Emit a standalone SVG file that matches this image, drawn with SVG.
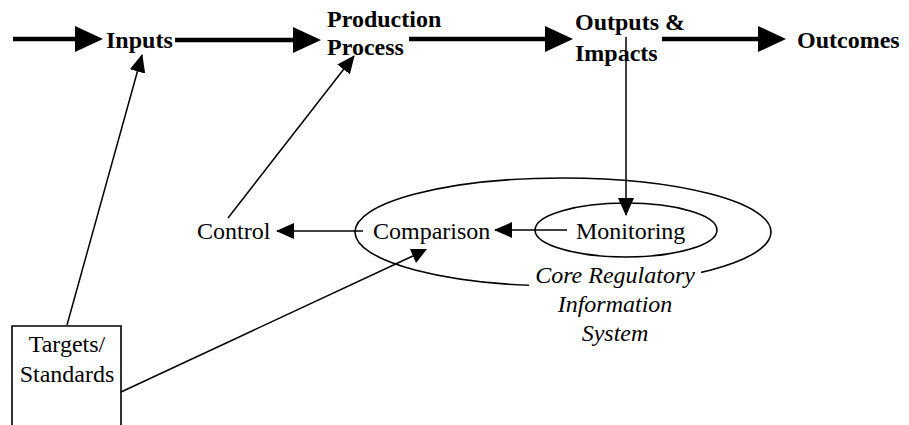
<svg xmlns="http://www.w3.org/2000/svg" width="909" height="425" viewBox="0 0 909 425">
<style>
.thick{stroke:#000;stroke-width:4.5;fill:none}
.thin{stroke:#000;stroke-width:1.5;fill:none}
.shape{stroke:#000;stroke-width:1.6;fill:none}
</style>
<defs>
<marker id="big" markerUnits="userSpaceOnUse" markerWidth="28" markerHeight="26" refX="0" refY="13" orient="auto">
<path d="M0,0 L28,13 L0,26 z" fill="#000"/>
</marker>
<marker id="small" markerUnits="userSpaceOnUse" markerWidth="18" markerHeight="16" refX="17" refY="8" orient="auto">
<path d="M0,0 L18,8 L0,16 z" fill="#000"/>
</marker>
</defs>
<rect width="909" height="425" fill="#fff"/>

<g font-family="Liberation Serif, DejaVu Serif, serif" font-size="24" fill="#000">
<g id="core-system">
<ellipse cx="563" cy="232" rx="208" ry="54" class="shape"/>
<rect x="529" y="264" width="172" height="26" fill="#fff"/>
<text font-style="italic" x="615" y="283" text-anchor="middle">Core Regulatory</text>
<text font-style="italic" x="615" y="312" text-anchor="middle">Information</text>
<text font-style="italic" x="615" y="341" text-anchor="middle">System</text>
</g>

<g id="monitoring">
<ellipse cx="626" cy="230" rx="91" ry="27" class="shape"/>
<text x="576" y="239">Monitoring</text>
</g>

<g id="comparison">
<text x="373" y="239">Comparison</text>
</g>

<g id="control">
<text x="197" y="239">Control</text>
</g>

<g id="targets">
<path d="M12,426 V326 H121 V426" class="shape"/>
<text x="67" y="352" text-anchor="middle">Targets/</text>
<text x="67" y="382" text-anchor="middle">Standards</text>
</g>

<g id="inputs"><text font-weight="bold" x="106" y="48">Inputs</text></g>
<g id="production"><text font-weight="bold" x="327" y="27">Production</text><text font-weight="bold" x="327" y="55">Process</text></g>
<g id="outputs"><text font-weight="bold" x="575" y="30">Outputs &amp;</text><text font-weight="bold" x="575" y="61">Impacts</text></g>
<g id="outcomes"><text font-weight="bold" x="797" y="48">Outcomes</text></g>
</g>

<g id="connectors">
<line x1="13" y1="39" x2="75" y2="39" class="thick" marker-end="url(#big)"/>
<line x1="175" y1="40" x2="293" y2="40" class="thick" marker-end="url(#big)"/>
<line x1="409" y1="39" x2="545" y2="39" class="thick" marker-end="url(#big)"/>
<line x1="662" y1="39" x2="758" y2="39" class="thick" marker-end="url(#big)"/>
<line x1="626" y1="37" x2="626" y2="215" class="thin" marker-end="url(#small)"/>
<line x1="567" y1="230" x2="495" y2="230" class="thin" marker-end="url(#small)"/>
<line x1="363" y1="231" x2="277" y2="231" class="thin" marker-end="url(#small)"/>
<line x1="228" y1="218" x2="354" y2="56" class="thin" marker-end="url(#small)"/>
<line x1="67" y1="325" x2="142" y2="55" class="thin" marker-end="url(#small)"/>
<line x1="121" y1="392" x2="415" y2="255" class="thin"/>
<polygon points="410,249 427,249 416,263" fill="#000"/>
</g>
</svg>
